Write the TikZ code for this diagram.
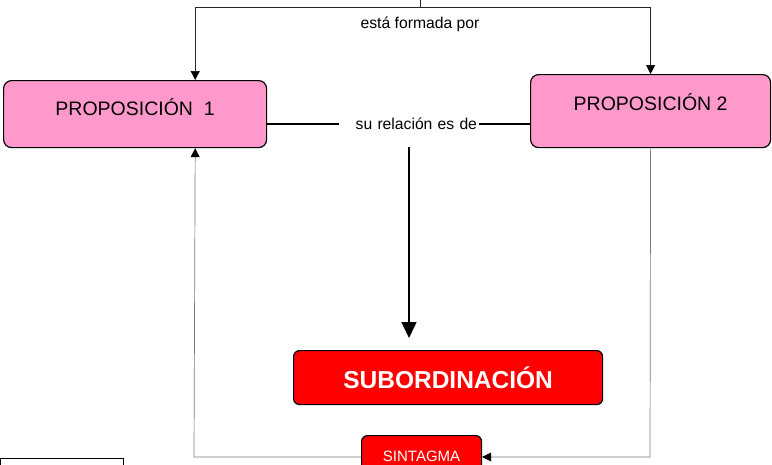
\documentclass[tikz,border=0pt]{standalone}
\usepackage{fontspec}
\setmainfont{Liberation Sans}
\usetikzlibrary{arrows.meta}
\definecolor{rosa}{HTML}{FF99CC}
\definecolor{rojo}{HTML}{FF0000}
\definecolor{gris}{HTML}{7A7A7A}

\begin{document}
\begin{tikzpicture}[
    prop/.style={draw, line width=1.2pt, fill=rosa, rounded corners=8pt,
      anchor=north west, inner sep=0pt, font=\fontsize{19.5}{20}\selectfont},
    rojobox/.style={draw, line width=1.2pt, fill=rojo, text=white,
      rounded corners=6pt, anchor=north west, inner sep=0pt},
    etiq/.style={font=\fontsize{15.7}{16}\selectfont},
    enlace/.style={line width=1.5pt},
    fino/.style={line width=0.7pt, color=gris},
    punta/.style={-{Triangle[length=9pt,width=9pt,black]}}
  ]
    \pgfsetxvec{\pgfpoint{1pt}{0}}
    \pgfsetyvec{\pgfpoint{0}{-1pt}}
    \clip (0,0) rectangle (772,464);

    \node[prop, minimum width=263pt, text height=35pt, text depth=32pt] (p1) at (3,80) {PROPOSICIÓN~~1};
    \node[prop, minimum width=240pt, text height=36pt, text depth=37pt] (p2) at (530,74) {PROPOSICIÓN 2};
    \node[rojobox, minimum width=309pt, minimum height=54pt,
      font=\bfseries\fontsize{24.5}{25}\selectfont] (sub) at (293,350) {SUBORDINACIÓN};
    \node[rojobox, minimum width=120pt, minimum height=41pt,
      font=\fontsize{15}{16}\selectfont] (sint) at (361,435) {SINTAGMA};
    \node[draw, line width=1.3pt, anchor=north west, inner sep=0pt,
      minimum width=123pt, minimum height=40pt] (caja) at (0,458) {};

    \node[etiq] (formada) at (420,24) {está formada por};
    \node[etiq, text width=136pt, align=right, inner xsep=2pt, inner ysep=0pt,
      minimum height=46pt] (rel) at (409,124) {su relación es de};

    % arriba
    \coordinate (arriba) at (420,-2);
    \coordinate (nudo) at (420,7);
    \draw[fino, black!85] (arriba) -- (nudo);
    \draw[fino, black!85, punta] (nudo) -| ([xshift=-72pt]p1.north east);
    \draw[fino, black!85, punta] (nudo) -| (p2.north);

    % relacion
    \draw[enlace] (p1.east |- rel.west) -- (rel.west);
    \draw[enlace] (rel.east) -- (p2.west |- rel.east);
    \draw[enlace, -{Triangle[length=16pt,width=15pt]}] (rel.south) -- ([yshift=12pt]rel.south |- sub.north);

    % abajo
    \coordinate (esq1) at (194,457);
    \coordinate (esq2) at (650,457);
    \draw[fino, punta] (sint.west |- esq1) -- (esq1) -- ([xshift=-72pt]p1.south east);
    \draw[fino, punta] (p2.south) -- (esq2) -- (sint.east |- esq2);
\end{tikzpicture}
\end{document}
